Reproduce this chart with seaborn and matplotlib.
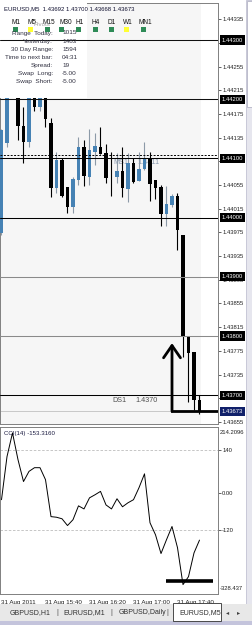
import numpy as np
import pandas as pd
import matplotlib
matplotlib.use("Agg")
import matplotlib.pyplot as plt
import matplotlib.transforms as mtrans
from matplotlib.patches import Rectangle
import seaborn as sns

# ---------------- data ----------------
bar_index = list(range(37))
opens = [1.43974, 1.44126, 1.44238, 1.44228, 1.44155, 1.44128, 1.44224, 1.44187, 1.44215,
         1.44160, 1.44050, 1.44097, 1.44052, 1.44018, 1.44064, 1.44119, 1.44069, 1.44111,
         1.44119, 1.44109, 1.44069, 1.44069, 1.44079, 1.44048, 1.44092, 1.44062, 1.44082,
         1.44101, 1.44064, 1.44052, 1.44006, 1.44021, 1.44036, 1.43971, 1.43800, 1.43773,
         1.43692]
highs = [1.44150, 1.44250, 1.44262, 1.44240, 1.44187, 1.44236, 1.44240, 1.44225, 1.44230,
         1.44168, 1.44111, 1.44101, 1.44052, 1.44069, 1.44136, 1.44131, 1.44150, 1.44143,
         1.44153, 1.44124, 1.44111, 1.44109, 1.44119, 1.44109, 1.44101, 1.44111, 1.44128,
         1.44111, 1.44064, 1.44055, 1.44053, 1.44040, 1.44042, 1.43971, 1.43800, 1.43773,
         1.43700]
lows = [1.43970, 1.44120, 1.44212, 1.44131, 1.44092, 1.44120, 1.44180, 1.44180, 1.44153,
        1.44035, 1.44042, 1.44035, 1.44008, 1.44008, 1.44055, 1.44053, 1.44055, 1.44089,
        1.44107, 1.44058, 1.44036, 1.44058, 1.44035, 1.44026, 1.44058, 1.44062, 1.44080,
        1.44028, 1.44031, 1.43986, 1.43986, 1.44018, 1.43945, 1.43765, 1.43689, 1.43675,
        1.43668]
closes = [1.44148, 1.44232, 1.44220, 1.44155, 1.44128, 1.44222, 1.44187, 1.44215, 1.44167,
          1.44050, 1.44097, 1.44036, 1.44018, 1.44065, 1.44119, 1.44070, 1.44114, 1.44121,
          1.44107, 1.44067, 1.44068, 1.44079, 1.44050, 1.44092, 1.44060, 1.44082, 1.44101,
          1.44057, 1.44050, 1.44006, 1.44023, 1.44036, 1.43979, 1.43798, 1.43771, 1.43692,
          1.43673]
cci_values = [-22, 118, 195, 108, 37, 70, 82, 82, 43, -77, -79, -84, -106, -87, -42, -52,
              -16, -6, 5, -39, -52, -19, -45, -32, -22, 17, 62, -97, -136, -197, -152, -109,
              -178, -298, -272, -195, -153.316]

pivot_levels = [1.44300, 1.44200, 1.44100, 1.44000, 1.43900, 1.43800, 1.43700]
pivot_colors = ["#101010", "#101010", "#000000", "#000000", "#8a8a8a", "#8a8a8a", "#000000"]
ms1_level = 1.44106
bid_price = 1.43673
price_ticks = [round(1.43655 + 0.0004 * k, 5) for k in range(18)]

time_tick_bars = [0, 8, 16, 24, 32]
time_tick_labels = ["31 Aug 2011", "31 Aug 15:40", "31 Aug 16:20", "31 Aug 17:00", "31 Aug 17:40"]
cci_ticks = [140, 0, -120]
cci_tick_labels = ["140", "0.00", "-120"]
cci_max, cci_min = 214.2096, -328.437

tf_names = ["M1", "M5", "M15", "M30", "H1", "H4", "D1", "W1", "MN1"]
tf_colors = ["#2e8b57", "#ffff33", "#2e8b57", "#2e8b57", "#2e8b57", "#2e8b57", "#2e8b57",
             "#ffff33", "#2e8b57"]
info_labels = ["Range  Today:", "Yesterday:", "30 Day Range:", "Time to next bar:",
               "Spread:", "Swap  Long:", "Swap  Short:"]
info_values = ["1015", "1483", "1594", "04:31", "19", "-5.00", "-5.00"]
tabs = ["GBPUSD,H1", "EURUSD,M1", "GBPUSD,Daily", "EURUSD,M5"]

df = pd.DataFrame(dict(bar=bar_index, open=opens, high=highs, low=lows, close=closes))

# ---------------- figure ----------------
sns.set_style("white")
plt.rcParams["font.family"] = ["Liberation Sans", "DejaVu Sans"]
plt.rcParams["axes.linewidth"] = 0.7

W, H = 253, 625
fig = plt.figure(figsize=(W / 100, H / 100), dpi=100)
fig.patch.set_facecolor("white")


def box(x0, y0, x1, y1):
    return [x0 / W, 1 - y1 / H, (x1 - x0) / W, (y1 - y0) / H]


ov = fig.add_axes([0, 0, 1, 1], zorder=10)
ov.set_xlim(0, W)
ov.set_ylim(H, 0)
ov.axis("off")
ov.patch.set_alpha(0)

ax = fig.add_axes(box(0, 3, 218, 424))
ax2 = fig.add_axes(box(0, 427, 218, 594))

xlim = (-1.5 / 5.5, (218 - 1.5) / 5.5)
for a in (ax, ax2):
    a.set_xlim(*xlim)
    for s in a.spines.values():
        s.set_color("#808080")
        s.set_linewidth(0.7)

ax.set_ylim(1.436514, 1.443625)
ax.set_facecolor("#f6f6f6")
ax.add_patch(Rectangle((201, 3), 17, 421, transform=ov.transData, fc="white", ec="none", zorder=0.5))
ax.add_patch(Rectangle((0, 3), 87, 94.5, transform=ov.transData, fc="white", ec="none", zorder=3.5))

# candles
bull = df["close"] >= df["open"]
body_low = np.minimum(df["open"], df["close"])
body_h = np.maximum((df["close"] - df["open"]).abs(), 0.000012)
wick_cols = ["#8c9aa8" if b else "black" for b in bull]
body_cols = ["#4682b4" if b else "black" for b in bull]
ax.vlines(df["bar"], df["low"], df["high"], colors=wick_cols, lw=0.8, zorder=2)
ax.bar(df["bar"], body_h, bottom=body_low, width=0.62, color=body_cols, lw=0, zorder=3)

# pivot lines
for lv, c in zip(pivot_levels, pivot_colors):
    ax.axhline(lv, color=c, lw=0.75, zorder=4)
ax.axhline(ms1_level, color="black", lw=0.7, ls=(0, (2, 1.5)), zorder=4)
ax.axhline(bid_price, color="#c8c8c8", lw=0.7, zorder=1)

ax.text(113, 162, "MS1", transform=ov.transData, fontsize=5.2, color="#8a9ab0", va="center", zorder=1.5)
ax.text(137, 162, "1.4411", transform=ov.transData, fontsize=5.2, color="#8a9ab0", va="center", zorder=1.5)
ax.text(112, 400, "DS1", transform=ov.transData, fontsize=5.2, color="#505050", va="center", zorder=5)
ax.text(135, 400, "1.4370", transform=ov.transData, fontsize=5.2, color="#505050", va="center", zorder=5)

# arrow
ax.annotate("", xy=(31.0, 1.43788), xytext=(31.0, bid_price),
            arrowprops=dict(arrowstyle="->,head_length=0.55,head_width=0.38", lw=2.0,
                            color="black", shrinkA=0, shrinkB=0, mutation_scale=16), zorder=6)
ax.plot([31.0, xlim[1]], [bid_price, bid_price], color="black", lw=2.0, zorder=6,
        solid_capstyle="projecting")

# price axis
ax.set_xticks([])
ax.yaxis.tick_right()
ax.set_yticks(price_ticks)
ax.set_yticklabels([f"{t:.5f}" for t in price_ticks])
ax.tick_params(axis="y", length=2, width=0.5, pad=1, labelsize=4.2, colors="#222222",
               direction="out")
tr = mtrans.blended_transform_factory(ax.transAxes, ax.transData)
for lv in pivot_levels:
    ax.text(1 + 4 / 218, lv, f"{lv:.5f}", transform=tr, fontsize=4.2, color="white",
            va="center", ha="left", clip_on=False,
            bbox=dict(boxstyle="square,pad=0.35", fc="black", ec="none"))
ax.text(1 + 4 / 218, bid_price, f"{bid_price:.5f}", transform=tr, fontsize=4.2, color="white",
        va="center", ha="left", clip_on=False,
        bbox=dict(boxstyle="square,pad=0.35", fc="#10206a", ec="none"))

# CCI panel
ax2.set_facecolor("white")
ax2.set_ylim(cci_min, cci_max)
for lv in (140, -120):
    ax2.axhline(lv, color="#bdbdbd", lw=0.6, ls=(0, (3, 2)), zorder=1)
sns.lineplot(x=bar_index, y=cci_values, ax=ax2, color="black", lw=0.7, zorder=3)
ax2.plot([29.9, 38.45], [-285.7, -285.7], color="black", lw=2.6, solid_capstyle="butt", zorder=4)
ax2.yaxis.tick_right()
ax2.set_yticks(cci_ticks)
ax2.set_yticklabels(cci_tick_labels)
ax2.tick_params(axis="y", length=2, width=0.5, pad=1, labelsize=4.2, colors="#222222")
ax2.text(1 + 2 / 218, 0.985, f"{cci_max:.4f}", transform=ax2.transAxes, fontsize=4.2,
         color="#222222", va="top", ha="left", clip_on=False)
ax2.text(1 + 2 / 218, 0.015, f"{cci_min:.3f}", transform=ax2.transAxes, fontsize=4.2,
         color="#222222", va="bottom", ha="left", clip_on=False)
ax2.text(4, 434, f"CCI(14) {cci_values[-1]:.4f}", transform=ov.transData, fontsize=4.4,
         color="#1a1a40", va="center", ha="left", zorder=6)
ax2.set_xticks(time_tick_bars)
ax2.set_xticklabels(time_tick_labels, ha="left")
ax2.tick_params(axis="x", length=2.5, width=0.5, pad=1.5, labelsize=4.5, colors="#222222",
                direction="out")

# ---------------- overlay decorations ----------------
ov.text(4, 9, "EURUSD,M5  1.43692 1.43700 1.43668 1.43673", fontsize=4.3, color="#101030",
        va="center", ha="left")
tf_x = [12, 28, 43, 60, 76, 92, 108, 123, 139]
sq_x = [13, 28.5, 45, 59.5, 76.5, 93, 109, 124, 141]
for name, x, sx, c in zip(tf_names, tf_x, sq_x, tf_colors):
    ov.text(x, 22, name, fontsize=4.7, color="#101010", va="center", ha="left")
    ov.add_patch(Rectangle((sx, 27), 5, 5, fc=c, ec="none"))
ov.text(34, 24, "Pivots", fontsize=4.4, color="#a0a0a0", va="center", ha="left")
for k, (lab, val) in enumerate(zip(info_labels, info_values)):
    y = 33 + 8.1 * k
    ov.text(53, y, lab, fontsize=4.6, color="#303040", va="center", ha="right")
    ov.text(62, y, val, fontsize=4.6, color="#303040", va="center", ha="left")

# scrollbar
ov.add_patch(Rectangle((246, 0), 7, 604, fc="#e6e6ee", ec="#b8b8cc", lw=0.5))
ov.add_patch(Rectangle((247, 1), 5, 106, fc="white", ec="#a8a8bc", lw=0.5))

# tab bar
ov.add_patch(Rectangle((0, 604), 253, 17, fc="#e8e8e8", ec="none"))
ov.add_patch(Rectangle((0, 621), 253, 4, fc="#c4c4dc", ec="none"))
ov.add_patch(Rectangle((173, 603), 48, 18, fc="white", ec="#303030", lw=0.6))
tab_x = [10, 63, 119, 179]
for t, x in zip(tabs, tab_x):
    ov.text(x, 612.5, t, fontsize=5, color="#303030", va="center", ha="left")
for x in (57, 111, 167):
    ov.text(x, 612.5, "|", fontsize=5, color="#505050", va="center", ha="center")
ov.text(228, 612.5, "\u25c2", fontsize=4.5, color="#404040", va="center", ha="center")
ov.text(239, 612.5, "\u25b8", fontsize=4.5, color="#404040", va="center", ha="center")

fig.savefig("out.png", dpi=100, facecolor=fig.get_facecolor())
